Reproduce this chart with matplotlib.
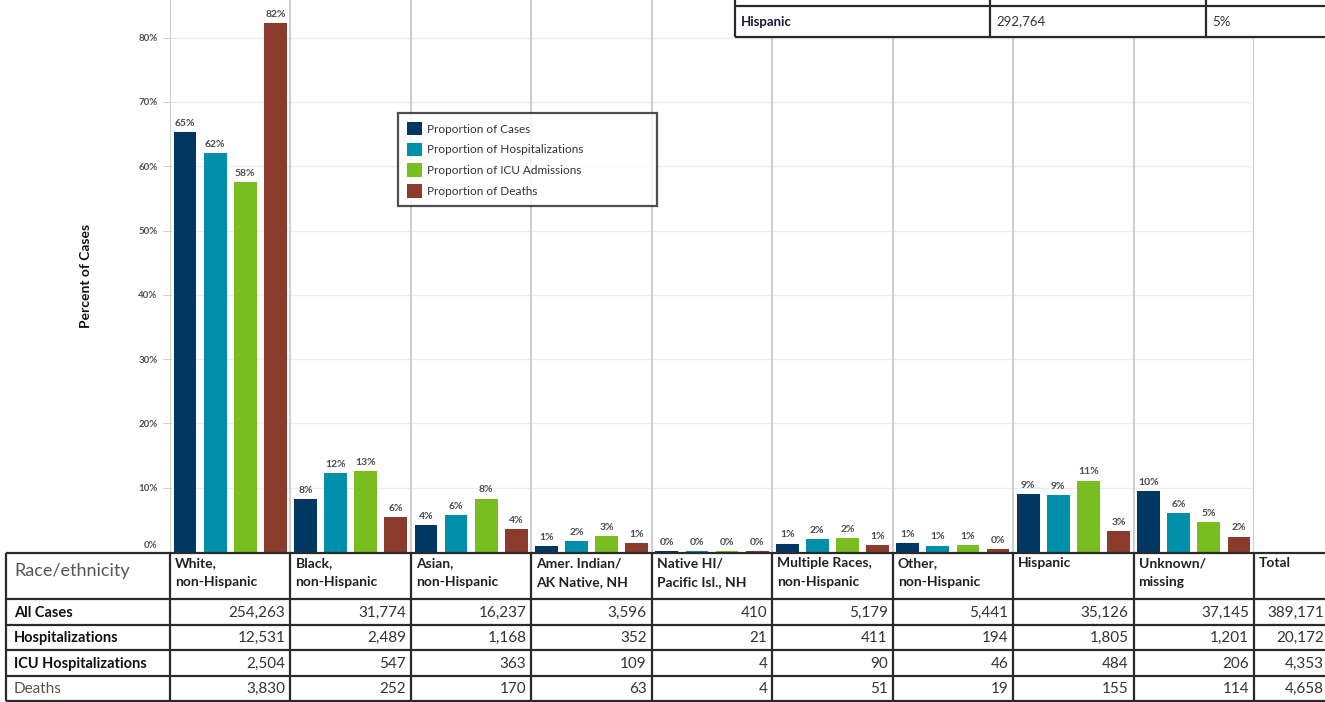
import matplotlib
matplotlib.use("Agg")
import matplotlib.pyplot as plt
from matplotlib.patches import Rectangle
import matplotlib.transforms as mtransforms

plt.rcParams['font.family'] = ['Lato', 'DejaVu Sans']

# ---------------- data ----------------
categories = ["White,\nnon-Hispanic", "Black,\nnon-Hispanic", "Asian,\nnon-Hispanic",
              "Amer. Indian/\nAK Native, NH", "Native HI/\nPacific Isl., NH",
              "Multiple Races,\nnon-Hispanic", "Other,\nnon-Hispanic", "Hispanic",
              "Unknown/\nmissing"]
series_names = ["Proportion of Cases", "Proportion of Hospitalizations",
                "Proportion of ICU Admissions", "Proportion of Deaths"]
pct_cases = [65.3, 8.2, 4.2, 0.9, 0.1, 1.3, 1.4, 9.0, 9.5]
pct_hosp = [62.1, 12.3, 5.8, 1.7, 0.1, 2.0, 1.0, 8.9, 6.0]
pct_icu = [57.5, 12.6, 8.3, 2.5, 0.1, 2.1, 1.1, 11.1, 4.7]
pct_deaths = [82.2, 5.4, 3.6, 1.4, 0.1, 1.1, 0.4, 3.3, 2.4]
lab_cases = [65, 8, 4, 1, 0, 1, 1, 9, 10]
lab_hosp = [62, 12, 6, 2, 0, 2, 1, 9, 6]
lab_icu = [58, 13, 8, 3, 0, 2, 1, 11, 5]
lab_deaths = [82, 6, 4, 1, 0, 1, 0, 3, 2]

row_names = ["All Cases", "Hospitalizations", "ICU Hospitalizations", "Deaths"]
cnt_cases = [254263, 31774, 16237, 3596, 410, 5179, 5441, 35126, 37145]
cnt_hosp = [12531, 2489, 1168, 352, 21, 411, 194, 1805, 1201]
cnt_icu = [2504, 547, 363, 109, 4, 90, 46, 484, 206]
cnt_deaths = [3830, 252, 170, 63, 4, 51, 19, 155, 114]
totals = [389171, 20172, 4353, 4658]

top_row = ["Hispanic", "292,764", "5%"]

yticks = [0, 10, 20, 30, 40, 50, 60, 70, 80]
colors = ["#003763", "#008FAA", "#78BE21", "#8A3B2B"]

# ---------------- layout ----------------
W, H = 1325, 702
fig = plt.figure(figsize=(W / 100, H / 100), dpi=100)
fig.patch.set_facecolor("white")

base_y = 552      # pixel row of 0%
px_per_pct = 6.43
x0, x1 = 170, 1254
ax = fig.add_axes([x0 / W, (H - base_y) / H, (x1 - x0) / W, base_y / H])
ax.set_xlim(0, len(categories))
ax.set_ylim(0, base_y / px_per_pct)

series = [pct_cases, pct_hosp, pct_icu, pct_deaths]
labels = [lab_cases, lab_hosp, lab_icu, lab_deaths]
for j, (vals, labs) in enumerate(zip(series, labels)):
    xs = [k + 0.125 + 0.25 * j for k in range(len(categories))]
    ax.bar(xs, vals, width=0.19, color=colors[j], zorder=3, label=series_names[j])
    for x, v, l in zip(xs, vals, labs):
        ax.annotate(f"{l}%", (x, v), xytext=(0, 3), textcoords="offset points",
                    ha="center", va="bottom", fontsize=7.5, fontweight="bold",
                    color="#4a4a4a", zorder=4)

for s in ax.spines.values():
    s.set_visible(False)
ax.set_yticks(yticks)
ax.set_yticklabels([f"{t}%" for t in yticks], fontsize=7, fontweight="bold", color="#505050")
ax.tick_params(axis="y", length=5, color="#d0d0d0", pad=4)
# first label (0%) sits slightly above the table in the reference
zero_lab = ax.get_yticklabels()[0]
zero_lab.set_transform(zero_lab.get_transform() +
                       mtransforms.ScaledTranslation(0, 8 / 100, fig.dpi_scale_trans))
ax.set_xticks([])
for t in yticks[1:]:
    ax.axhline(t, color="#ececec", lw=1, zorder=1)
for k in range(len(categories) + 1):
    ax.axvline(k, color="#cfcfcf", lw=1.5, zorder=2)
ax.set_ylabel("Percent of Cases", fontsize=10, fontweight="bold", color="#111111", labelpad=33)

leg = ax.legend(loc="upper left",
                bbox_to_anchor=((398 - x0) / (x1 - x0), (base_y - 113) / base_y,
                                (657 - 398) / (x1 - x0), 0.0),
                mode="expand",
                fontsize=8.5, frameon=True, fancybox=False, edgecolor="#222222",
                handlelength=1.25, handleheight=1.4, handletextpad=0.45, labelspacing=0.6,
                borderpad=0.75, borderaxespad=0)
leg.get_frame().set_linewidth(1.6)
for t in leg.get_texts():
    t.set_color("#333333")
leg.set_zorder(6)

# ---------------- overlay for tables ----------------
ov = fig.add_axes([0, 0, 1, 1], facecolor="none")
ov.set_xlim(0, W)
ov.set_ylim(H, 0)
ov.axis("off")

lc = "#2a2a2a"
# bottom table
col_edges = [6] + [x0 + k * (x1 - x0) / len(categories) for k in range(len(categories) + 1)] + [1335]
row_edges = [553, 599, 624.5, 650, 675.5, 701]
ov.add_patch(Rectangle((col_edges[0], row_edges[0]), col_edges[-1] - col_edges[0],
                       row_edges[-1] - row_edges[0], facecolor="white", edgecolor="none", zorder=5))
for y in row_edges:
    ov.plot([col_edges[0], col_edges[-1]], [y, y], color=lc, lw=1.6, zorder=6, solid_capstyle="butt")
for x in col_edges:
    ov.plot([x, x], [row_edges[0], row_edges[-1]], color=lc, lw=1.6, zorder=6, solid_capstyle="butt")

ov.text(14, 571, "Race/ethnicity", fontsize=13, color="#555555", va="center", ha="left", zorder=7)
headers = categories + ["Total"]
for i, h in enumerate(headers):
    ov.text(col_edges[i + 1] + 5, 557, h, fontsize=10, fontweight="bold", color="#222222",
            va="top", ha="left", linespacing=1.75, zorder=7)

table_rows = [cnt_cases, cnt_hosp, cnt_icu, cnt_deaths]
for r, (name, vals) in enumerate(zip(row_names, table_rows)):
    yc = (row_edges[r + 1] + row_edges[r + 2]) / 2 + 1
    is_deaths = (r == 3)
    ov.text(14, yc, name, fontsize=10.5 if not is_deaths else 11,
            fontweight="normal" if is_deaths else "bold",
            color="#5a5048" if is_deaths else "#111111", va="center", ha="left", zorder=7)
    vals_all = list(vals) + [totals[r]]
    for i, v in enumerate(vals_all):
        right = col_edges[i + 2] - 5 if i < len(vals) else W - 1
        ov.text(right, yc, f"{v:,}", fontsize=11, color="#333333",
                va="center", ha="right", zorder=7)

# top-right (cut off) table
tcols = [735, 990, 1206, 1335]
trows = [6, 37]
ov.add_patch(Rectangle((tcols[0], -5), tcols[-1] - tcols[0], trows[-1] + 5,
                       facecolor="white", edgecolor="none", zorder=5))
for y in trows:
    ov.plot([tcols[0], tcols[-1]], [y, y], color=lc, lw=1.6, zorder=6, solid_capstyle="butt")
for x in tcols:
    ov.plot([x, x], [-5, trows[-1]], color=lc, lw=1.6, zorder=6, solid_capstyle="butt")
for i, txt in enumerate(top_row):
    ov.text(tcols[i] + 6, 21.5, txt, fontsize=9.5, fontweight="bold" if i == 0 else "normal",
            color="#1a1a3a" if i == 0 else "#333333", va="center", ha="left", zorder=7)

fig.savefig("out.png", dpi=100)
